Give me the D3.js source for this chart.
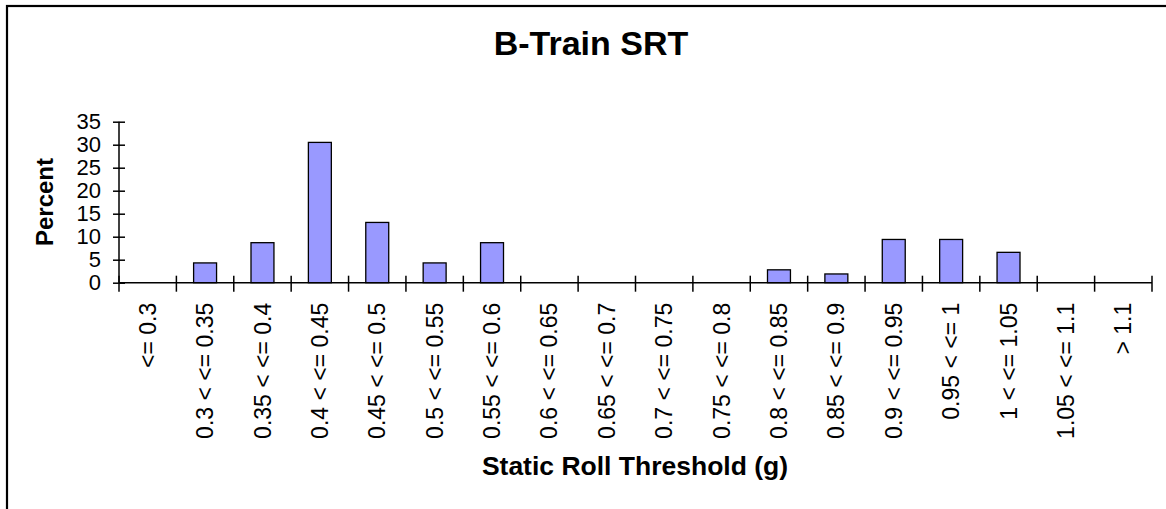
<!DOCTYPE html>
<html lang="en">
<head>
<meta charset="UTF-8">
<title>B-Train SRT</title>
<style>
  html, body { margin: 0; padding: 0; background: #fff; overflow: hidden; }
  svg { display: block; font-family: Arial, "Liberation Sans", sans-serif; }
</style>
</head>
<body>
<svg id="chart" width="1166" height="509"></svg>
<script src="https://cdn.jsdelivr.net/npm/d3@7"></script>
<script>
// categories (SRT bins, g) and percent of vehicles per bin
const categories = ["<= 0.3", "0.3 < <= 0.35", "0.35 < <= 0.4", "0.4 < <= 0.45",
  "0.45 < <= 0.5", "0.5 < <= 0.55", "0.55 < <= 0.6", "0.6 < <= 0.65",
  "0.65 < <= 0.7", "0.7 < <= 0.75", "0.75 < <= 0.8", "0.8 < <= 0.85",
  "0.85 < <= 0.9", "0.9 < <= 0.95", "0.95 < <= 1", "1 < <= 1.05",
  "1.05 < <= 1.1", "> 1.1"];
const percent = [0, 4.3, 8.7, 30.5, 13.1, 4.3, 8.7, 0, 0, 0, 0, 2.8, 1.9, 9.4, 9.4, 6.6, 0, 0];
const yTicks = [0, 5, 10, 15, 20, 25, 30, 35];

const svg = d3.select("#chart");

// outer chart frame (runs off right and bottom edges)
svg.append("rect")
  .attr("x", 7).attr("y", 6)
  .attr("width", 1200).attr("height", 600)
  .attr("fill", "none").attr("stroke", "#000").attr("stroke-width", 2.2);

const x = d3.scaleBand().domain(categories).range([119, 1152]).padding(0);
const y = d3.scaleLinear().domain([0, 35]).range([282.7, 121.7]);

// bars
svg.append("g").selectAll("rect")
  .data(percent.map((v, i) => ({cat: categories[i], v})).filter(d => d.v > 0))
  .enter().append("rect")
  .attr("x", d => x(d.cat) + x.bandwidth() * 0.3)
  .attr("width", x.bandwidth() * 0.4)
  .attr("y", d => y(d.v))
  .attr("height", d => y(0) - y(d.v))
  .attr("fill", "#9999ff")
  .attr("stroke", "#000")
  .attr("stroke-width", 1.3);

// y axis
const yAxis = svg.append("g")
  .attr("transform", `translate(${x.range()[0]},0)`)
  .call(d3.axisLeft(y).tickValues(yTicks).tickSize(6).tickPadding(12));
yAxis.select(".domain").attr("d", `M0,${y(35)}V${y(0)}`).attr("stroke-width", 1.5);
yAxis.selectAll(".tick line").attr("x1", 6).attr("x2", -6).attr("stroke-width", 1.5);
yAxis.selectAll(".tick text")
  .attr("font-size", 22).attr("fill", "#000")
  .style("font-family", "Arial, 'Liberation Sans', sans-serif");

// x axis: line + ticks on category boundaries
const xg = svg.append("g");
const x0 = x.range()[0], x1 = x.range()[1];
xg.append("line")
  .attr("x1", x0).attr("x2", x1).attr("y1", y(0)).attr("y2", y(0))
  .attr("stroke", "#000").attr("stroke-width", 1.5);
const bounds = categories.map(c => x(c)).concat([x1]);
xg.selectAll("line.tk").data(bounds).enter().append("line")
  .attr("class", "tk")
  .attr("x1", d => d).attr("x2", d => d)
  .attr("y1", y(0) - 7).attr("y2", y(0) + 9)
  .attr("stroke", "#000").attr("stroke-width", 1.5);

xg.selectAll("text").data(categories).enter().append("text")
  .attr("transform", d => `translate(${x(d) + x.bandwidth() / 2},${y(0) + 20}) rotate(-90)`)
  .attr("text-anchor", "end")
  .attr("dy", "0.35em")
  .attr("font-size", 23)
  .text(d => d);

// titles
svg.append("text")
  .attr("x", 591).attr("y", 55)
  .attr("text-anchor", "middle")
  .attr("font-size", 34).attr("font-weight", "bold")
  .text("B-Train SRT");

svg.append("text")
  .attr("transform", `translate(53,202) rotate(-90)`)
  .attr("text-anchor", "middle")
  .attr("font-size", 24).attr("font-weight", "bold")
  .text("Percent");

svg.append("text")
  .attr("x", 635).attr("y", 475)
  .attr("text-anchor", "middle")
  .attr("font-size", 26.5).attr("font-weight", "bold")
  .text("Static Roll Threshold (g)");
</script>
</body>
</html>
